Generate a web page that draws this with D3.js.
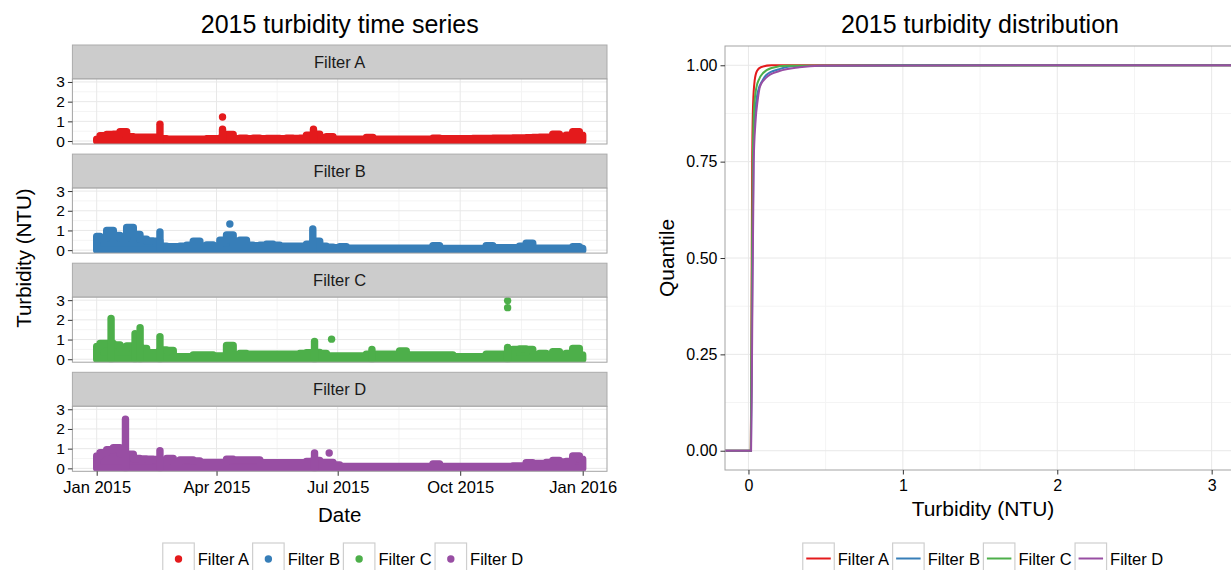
<!DOCTYPE html>
<html>
<head>
<meta charset="utf-8">
<script src="https://cdn.jsdelivr.net/npm/d3@7"></script>
<style>
  body { margin: 0; background: #fff; }
  text { font-family: "Liberation Sans", Arial, Helvetica, sans-serif; }
</style>
</head>
<body>
<div id="chart"></div>
<script>
// ---- data ----
const filters = ["Filter A", "Filter B", "Filter C", "Filter D"];
const colors  = ["#E41A1C", "#377EB8", "#4DAF4A", "#984EA3"];

// day of year (0 = 1 Jan 2015) of each envelope reading
const sampleDays = [
  0, 5, 10, 15, 20, 25, 30, 35, 40, 45,
  50, 55, 60, 65, 70, 75, 80, 85, 90, 95,
  100, 105, 110, 115, 120, 125, 130, 135, 140, 145,
  150, 155, 160, 165, 170, 175, 180, 185, 190, 195,
  200, 205, 210, 215, 220, 225, 230, 235, 240, 245,
  250, 255, 260, 265, 270, 275, 280, 285, 290, 295,
  300, 305, 310, 315, 320, 325, 330, 335, 340, 345,
  350, 355, 360, 365
];

// upper envelope of the turbidity readings (NTU)
const valuesA = [
  0.10, 0.27, 0.33, 0.35, 0.48, 0.22, 0.20, 0.20, 0.20, 0.20,
  0.12, 0.10, 0.10, 0.10, 0.10, 0.10, 0.10, 0.12, 0.12, 0.15,
  0.33, 0.12, 0.15, 0.12, 0.15, 0.12, 0.13, 0.13, 0.12, 0.14,
  0.13, 0.14, 0.30, 0.35, 0.15, 0.22, 0.10, 0.10, 0.10, 0.10,
  0.10, 0.18, 0.10, 0.10, 0.10, 0.10, 0.10, 0.10, 0.10, 0.10,
  0.10, 0.15, 0.12, 0.12, 0.12, 0.12, 0.12, 0.13, 0.13, 0.13,
  0.14, 0.14, 0.15, 0.16, 0.16, 0.17, 0.18, 0.20, 0.20, 0.35,
  0.22, 0.30, 0.48, 0.30
];
const valuesB = [
  0.70, 0.60, 1.00, 0.75, 0.60, 1.15, 0.80, 0.55, 0.47, 0.45,
  0.20, 0.18, 0.18, 0.20, 0.25, 0.45, 0.18, 0.27, 0.20, 0.50,
  0.77, 0.20, 0.50, 0.25, 0.23, 0.25, 0.30, 0.25, 0.20, 0.20,
  0.20, 0.20, 0.30, 0.45, 0.20, 0.15, 0.12, 0.18, 0.10, 0.10,
  0.10, 0.10, 0.10, 0.10, 0.10, 0.10, 0.10, 0.10, 0.10, 0.10,
  0.10, 0.22, 0.08, 0.08, 0.08, 0.08, 0.08, 0.08, 0.08, 0.22,
  0.13, 0.13, 0.13, 0.13, 0.20, 0.35, 0.10, 0.10, 0.10, 0.10,
  0.10, 0.10, 0.17, 0.08
];
const valuesC = [
  0.65, 0.80, 0.80, 0.72, 0.55, 0.67, 0.67, 0.55, 0.33, 0.33,
  0.47, 0.45, 0.13, 0.13, 0.13, 0.22, 0.22, 0.22, 0.17, 0.17,
  0.70, 0.22, 0.30, 0.25, 0.25, 0.25, 0.25, 0.25, 0.25, 0.25,
  0.25, 0.30, 0.33, 0.35, 0.30, 0.17, 0.17, 0.17, 0.17, 0.17,
  0.17, 0.25, 0.25, 0.25, 0.25, 0.25, 0.42, 0.22, 0.22, 0.22,
  0.22, 0.22, 0.22, 0.22, 0.13, 0.13, 0.13, 0.13, 0.13, 0.25,
  0.25, 0.25, 0.25, 0.50, 0.52, 0.50, 0.22, 0.30, 0.25, 0.38,
  0.25, 0.30, 0.55, 0.22
];
const valuesD = [
  0.63, 0.80, 0.95, 1.05, 0.75, 0.72, 0.50, 0.48, 0.46, 0.45,
  0.30, 0.50, 0.32, 0.42, 0.42, 0.38, 0.30, 0.30, 0.30, 0.30,
  0.46, 0.42, 0.42, 0.42, 0.42, 0.29, 0.29, 0.29, 0.29, 0.29,
  0.29, 0.29, 0.35, 0.40, 0.30, 0.30, 0.17, 0.09, 0.09, 0.09,
  0.09, 0.09, 0.09, 0.09, 0.09, 0.09, 0.09, 0.09, 0.09, 0.09,
  0.09, 0.22, 0.09, 0.09, 0.09, 0.09, 0.09, 0.09, 0.09, 0.09,
  0.09, 0.09, 0.09, 0.12, 0.12, 0.29, 0.25, 0.25, 0.30, 0.40,
  0.32, 0.35, 0.63, 0.46
];

// short-lived peaks [day, NTU]
const spikesA = [[47.5, 0.85], [94.5, 0.60], [162.8, 0.60]];
const spikesB = [[47.5, 0.93], [162.3, 1.07]];
const spikesC = [[10.8, 2.07], [28.8, 1.30], [32.6, 1.60], [47.5, 1.15], [163.6, 0.90], [206.7, 0.50], [308.6, 0.60]];
const spikesD = [[21.6, 2.49], [47.5, 0.90], [163.6, 0.78]];

// detached single readings [day, NTU]
const outliersA = [[94.5, 1.22]];
const outliersB = [[100, 1.33]];
const outliersC = [[176.4, 1.02], [308.6, 2.62], [308.6, 2.98]];
const outliersD = [[174.6, 0.78]];

// empirical distribution [NTU, quantile]
const ecdfA = [[0.015, 0], [0.019, 0.30], [0.024, 0.75], [0.030, 0.90], [0.040, 0.960], [0.055, 0.985], [0.080, 0.995], [0.150, 1.0], [1.22, 1.0]];
const ecdfB = [[0.016, 0], [0.022, 0.30], [0.032, 0.75], [0.040, 0.86], [0.060, 0.930], [0.090, 0.960], [0.115, 0.975], [0.200, 0.990], [0.300, 0.998], [1.33, 1.0]];
const ecdfC = [[0.015, 0], [0.020, 0.30], [0.028, 0.75], [0.035, 0.88], [0.050, 0.940], [0.070, 0.965], [0.095, 0.980], [0.150, 0.993], [0.250, 0.999], [2.98, 1.0]];
const ecdfD = [[0.017, 0], [0.024, 0.30], [0.034, 0.75], [0.045, 0.85], [0.060, 0.910], [0.075, 0.945], [0.115, 0.968], [0.200, 0.985], [0.330, 0.995], [0.460, 0.999], [2.49, 1.0]];

const dateTicks      = ["2015-01-01", "2015-04-01", "2015-07-01", "2015-10-01", "2016-01-01"];
const dateTickLabels = ["Jan 2015", "Apr 2015", "Jul 2015", "Oct 2015", "Jan 2016"];
const ntuTicks   = [0, 1, 2, 3];
const turbTicks  = [0, 1, 2, 3];
const quantTicks = [0, 0.25, 0.5, 0.75, 1];

const series = filters.map((name, i) => ({
  name,
  color: colors[i],
  values: [valuesA, valuesB, valuesC, valuesD][i],
  spikes: [spikesA, spikesB, spikesC, spikesD][i],
  outliers: [outliersA, outliersB, outliersC, outliersD][i],
  ecdf: [ecdfA, ecdfB, ecdfC, ecdfD][i]
}));

// ---- svg ----
const W = 1231, H = 570;
const svg = d3.select("#chart").append("svg")
  .attr("width", W).attr("height", H)
  .style("display", "block");
svg.append("rect").attr("width", W).attr("height", H).attr("fill", "#fff");

const GRID_MAJOR = "#e8e8e8", GRID_MINOR = "#f4f4f4", BORDER = "#a3a3a3", TICK = "#333";
const PT_R = 3.7;
const day0 = Date.UTC(2015, 0, 1);
const dayToDate = d => new Date(day0 + d * 864e5);
const fontCss = "'Liberation Sans', Arial, sans-serif";

// ================= left: faceted time series =================
const left = { x0: 72.4, x1: 607, top: 45, step: 109.1, strip: 34, panel: 65 };
const span = d3.max(sampleDays) - d3.min(sampleDays);
const x = d3.scaleUtc()
  .domain([dayToDate(d3.min(sampleDays) - span * 0.05), dayToDate(d3.max(sampleDays) + span * 0.05)])
  .range([left.x0, left.x1]);
const majorDates = dateTicks.map(s => new Date(s + "T00:00:00Z"));
const minorDates = d3.pairs(majorDates).map(([a, b]) => new Date((+a + +b) / 2));

svg.append("text")
  .attr("x", (left.x0 + left.x1) / 2).attr("y", 33)
  .attr("text-anchor", "middle").attr("font-size", 25)
  .text("2015 turbidity time series");

series.forEach((s, i) => {
  const sTop = left.top + i * left.step;
  const pTop = sTop + left.strip, pBot = pTop + left.panel;
  const y = d3.scaleLinear().domain([-0.15, 3.15]).range([pBot, pTop]);
  const g = svg.append("g");

  // strip
  g.append("rect")
    .attr("x", left.x0).attr("y", sTop)
    .attr("width", left.x1 - left.x0).attr("height", left.strip)
    .attr("fill", "#cccccc").attr("stroke", "#ababab");
  g.append("text")
    .attr("x", (left.x0 + left.x1) / 2).attr("y", sTop + left.strip / 2)
    .attr("dy", "0.36em").attr("text-anchor", "middle")
    .attr("font-size", 16.5).attr("fill", "#1a1a1a")
    .text(s.name);

  // grid
  g.append("rect").attr("x", left.x0).attr("y", pTop)
    .attr("width", left.x1 - left.x0).attr("height", left.panel).attr("fill", "#fff");
  g.selectAll(".vmin").data(minorDates).enter().append("line")
    .attr("x1", d => x(d)).attr("x2", d => x(d)).attr("y1", pTop).attr("y2", pBot)
    .attr("stroke", GRID_MINOR);
  g.selectAll(".hmin").data([0.5, 1.5, 2.5]).enter().append("line")
    .attr("x1", left.x0).attr("x2", left.x1).attr("y1", d => y(d)).attr("y2", d => y(d))
    .attr("stroke", GRID_MINOR);
  g.selectAll(".vmaj").data(majorDates).enter().append("line")
    .attr("x1", d => x(d)).attr("x2", d => x(d)).attr("y1", pTop).attr("y2", pBot)
    .attr("stroke", GRID_MAJOR);
  g.selectAll(".hmaj").data(ntuTicks).enter().append("line")
    .attr("x1", left.x0).attr("x2", left.x1).attr("y1", d => y(d)).attr("y2", d => y(d))
    .attr("stroke", GRID_MAJOR);

  // points (clipped to panel)
  const clipId = "clip" + i;
  svg.append("clipPath").attr("id", clipId).append("rect")
    .attr("x", left.x0).attr("y", pTop).attr("width", left.x1 - left.x0).attr("height", left.panel);
  const marks = g.append("g").attr("clip-path", `url(#${clipId})`);

  // dense readings: envelope area, widened by one point radius all round
  const env = sampleDays.map((d, k) => [d, s.values[k]]);
  const area = d3.area()
    .x(d => x(dayToDate(d[0]))).y0(y(0)).y1(d => y(d[1]))
    .curve(d3.curveStep);
  marks.append("path").datum(env)
    .attr("d", area).attr("fill", s.color)
    .attr("stroke", s.color).attr("stroke-width", PT_R * 2).attr("stroke-linejoin", "round");

  // short peaks as stacked points
  marks.selectAll("line").data(s.spikes).enter().append("line")
    .attr("x1", d => x(dayToDate(d[0]))).attr("x2", d => x(dayToDate(d[0])))
    .attr("y1", y(0)).attr("y2", d => y(d[1]))
    .attr("stroke", s.color).attr("stroke-width", PT_R * 2).attr("stroke-linecap", "round");
  marks.selectAll("circle").data(s.outliers).enter().append("circle")
    .attr("cx", d => x(dayToDate(d[0]))).attr("cy", d => y(d[1]))
    .attr("r", PT_R).attr("fill", s.color);

  // border
  g.append("rect").attr("x", left.x0).attr("y", pTop)
    .attr("width", left.x1 - left.x0).attr("height", left.panel)
    .attr("fill", "none").attr("stroke", BORDER);

  // y axis
  const ya = g.append("g").attr("transform", `translate(${left.x0},0)`)
    .call(d3.axisLeft(y).tickValues(ntuTicks).tickFormat(d3.format("d")).tickSize(4.5).tickPadding(3));
  ya.select(".domain").remove();
  ya.selectAll(".tick line").attr("stroke", TICK);
  ya.selectAll(".tick text").attr("font-size", 15.5).attr("fill", "#000").style("font-family", fontCss);

  // x axis on bottom facet only
  if (i === series.length - 1) {
    const xa = g.append("g").attr("transform", `translate(0,${pBot})`)
      .call(d3.axisBottom(x).tickValues(majorDates)
        .tickFormat((d, k) => dateTickLabels[k]).tickSize(4.5).tickPadding(5));
    xa.select(".domain").remove();
    xa.selectAll(".tick line").attr("stroke", TICK);
    xa.selectAll(".tick text").attr("font-size", 16.5).attr("fill", "#000").style("font-family", fontCss);
    svg.append("text")
      .attr("x", (left.x0 + left.x1) / 2).attr("y", 521.5)
      .attr("text-anchor", "middle").attr("font-size", 20.5)
      .text("Date");
  }
});

svg.append("text")
  .attr("transform", `translate(24,${(left.top + left.top + 3 * left.step + left.strip + left.panel) / 2}) rotate(-90)`)
  .attr("text-anchor", "middle").attr("dy", "0.35em").attr("font-size", 20.5)
  .text("Turbidity (NTU)");

// ================= right: distribution =================
const right = { x0: 725, x1: 1241, y0: 46, y1: 470 };
const xr = d3.scaleLinear().domain([-0.152, 3.19]).range([right.x0, right.x1]);
const yr = d3.scaleLinear().domain([-0.05, 1.05]).range([right.y1, right.y0]);
const rg = svg.append("g");

rg.append("text")
  .attr("x", 980).attr("y", 33)
  .attr("text-anchor", "middle").attr("font-size", 25)
  .text("2015 turbidity distribution");

rg.append("rect").attr("x", right.x0).attr("y", right.y0)
  .attr("width", right.x1 - right.x0).attr("height", right.y1 - right.y0).attr("fill", "#fff");
const xMinor = [0.5, 1.5, 2.5], yMinor = [0.125, 0.375, 0.625, 0.875];
rg.selectAll(".xmin").data(xMinor).enter().append("line")
  .attr("x1", d => xr(d)).attr("x2", d => xr(d)).attr("y1", right.y0).attr("y2", right.y1)
  .attr("stroke", GRID_MINOR);
rg.selectAll(".ymin").data(yMinor).enter().append("line")
  .attr("x1", right.x0).attr("x2", right.x1).attr("y1", d => yr(d)).attr("y2", d => yr(d))
  .attr("stroke", GRID_MINOR);
rg.selectAll(".xmaj").data(turbTicks).enter().append("line")
  .attr("x1", d => xr(d)).attr("x2", d => xr(d)).attr("y1", right.y0).attr("y2", right.y1)
  .attr("stroke", GRID_MAJOR);
rg.selectAll(".ymaj").data(quantTicks).enter().append("line")
  .attr("x1", right.x0).attr("x2", right.x1).attr("y1", d => yr(d)).attr("y2", d => yr(d))
  .attr("stroke", GRID_MAJOR);

const line = d3.line().x(d => xr(d[0])).y(d => yr(d[1])).curve(d3.curveMonotoneX);
series.forEach(s => {
  // ecdf runs out to -Inf / Inf like stat_ecdf
  const pts = [[xr.domain()[0], 0]].concat(s.ecdf, [[xr.domain()[1], 1]]);
  rg.append("path").datum(pts)
    .attr("d", line).attr("fill", "none")
    .attr("stroke", s.color).attr("stroke-width", 2);
});

rg.append("rect").attr("x", right.x0).attr("y", right.y0)
  .attr("width", right.x1 - right.x0).attr("height", right.y1 - right.y0)
  .attr("fill", "none").attr("stroke", BORDER);

const ryA = rg.append("g").attr("transform", `translate(${right.x0},0)`)
  .call(d3.axisLeft(yr).tickValues(quantTicks).tickFormat(d3.format(".2f")).tickSize(4.5).tickPadding(3));
ryA.select(".domain").remove();
ryA.selectAll(".tick line").attr("stroke", TICK);
ryA.selectAll(".tick text").attr("font-size", 16).attr("fill", "#000").style("font-family", fontCss);

const rxA = rg.append("g").attr("transform", `translate(0,${right.y1})`)
  .call(d3.axisBottom(xr).tickValues(turbTicks).tickFormat(d3.format("d")).tickSize(4.5).tickPadding(5));
rxA.select(".domain").remove();
rxA.selectAll(".tick line").attr("stroke", TICK);
rxA.selectAll(".tick text").attr("font-size", 16).attr("fill", "#000").style("font-family", fontCss);

rg.append("text")
  .attr("x", 983).attr("y", 516)
  .attr("text-anchor", "middle").attr("font-size", 21)
  .text("Turbidity (NTU)");
rg.append("text")
  .attr("transform", `translate(667,${(right.y0 + right.y1) / 2}) rotate(-90)`)
  .attr("text-anchor", "middle").attr("dy", "0.35em").attr("font-size", 21)
  .text("Quantile");

// ================= legends =================
function legend(cx, kind) {
  const KEY = 31.5, GAP = 3.5, top = 543;
  const g = svg.append("g");
  const tmp = g.append("text").attr("font-size", 16.5);
  const widths = filters.map(f => { tmp.text(f); return tmp.node().getComputedTextLength(); });
  tmp.remove();
  const total = d3.sum(widths) + filters.length * (KEY + 2 * GAP) - GAP;
  let xPos = cx - total / 2;
  filters.forEach((f, i) => {
    g.append("rect").attr("x", xPos).attr("y", top).attr("width", KEY).attr("height", KEY)
      .attr("fill", "#fff").attr("stroke", "#cfcfcf").attr("stroke-width", 1.2);
    if (kind === "point") {
      g.append("circle").attr("cx", xPos + KEY / 2).attr("cy", top + 16).attr("r", PT_R)
        .attr("fill", colors[i]);
    } else {
      g.append("line").attr("x1", xPos + 3.5).attr("x2", xPos + KEY - 3.5)
        .attr("y1", top + 15.5).attr("y2", top + 15.5)
        .attr("stroke", colors[i]).attr("stroke-width", 2);
    }
    g.append("text").attr("x", xPos + KEY + GAP).attr("y", top + 22)
      .attr("font-size", 16.5).text(f);
    xPos += KEY + 2 * GAP + widths[i];
  });
}
legend(343, "point");
legend(983, "line");
</script>
</body>
</html>
